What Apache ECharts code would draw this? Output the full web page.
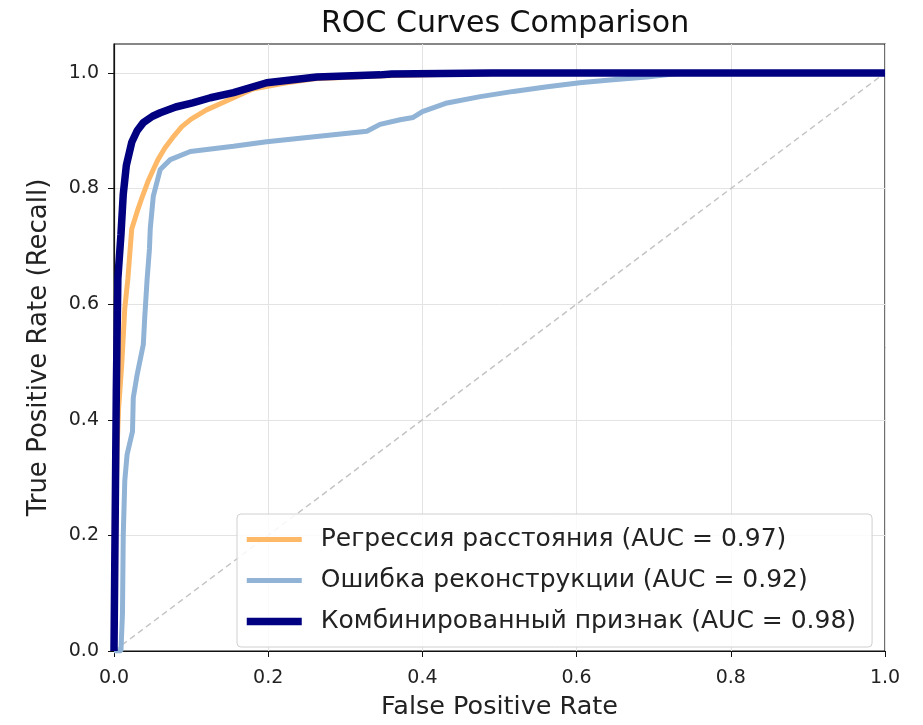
<!DOCTYPE html>
<html style="height: 100%">
<head>
    <meta charset="utf-8">
</head>
<body style="height: 100%; margin: 0; background: #fff">
    <div id="container" style="width: 923px; height: 725px"></div>
    <script src="https://cdn.jsdelivr.net/npm/echarts@6/dist/echarts.min.js"></script>
    <script type="text/javascript">
        // ROC curves, points
        var fprReg = [0, 0.002, 0.004, 0.006, 0.01, 0.014, 0.018, 0.021, 0.023, 0.03, 0.037, 0.044, 0.051, 0.057, 0.066, 0.076, 0.088, 0.1, 0.12, 0.14, 0.16, 0.18, 0.22, 0.26, 0.35, 0.45, 0.55, 1.0];
        var tprReg = [0, 0.2, 0.35, 0.42, 0.495, 0.593, 0.644, 0.696, 0.73, 0.76, 0.787, 0.812, 0.833, 0.85, 0.87, 0.888, 0.907, 0.92, 0.936, 0.948, 0.96, 0.972, 0.982, 0.99, 0.995, 0.998, 1.0, 1.0];

        var fprRec = [0, 0.009, 0.011, 0.012, 0.014, 0.017, 0.024, 0.025, 0.03, 0.038, 0.04, 0.043, 0.046, 0.047, 0.051, 0.06, 0.073, 0.099, 0.155, 0.198, 0.263, 0.328, 0.345, 0.371, 0.388, 0.40, 0.432, 0.475, 0.518, 0.562, 0.604, 0.647, 0.691, 0.725, 0.75, 1.0];
        var tprRec = [0, 0, 0.065, 0.2, 0.295, 0.34, 0.38, 0.438, 0.478, 0.53, 0.58, 0.644, 0.696, 0.73, 0.787, 0.833, 0.85, 0.864, 0.873, 0.881, 0.89, 0.899, 0.911, 0.919, 0.923, 0.933, 0.948, 0.959, 0.968, 0.976, 0.983, 0.988, 0.993, 0.998, 1.0, 1.0];

        var fprComb = [0, 0.001, 0.003, 0.005, 0.009, 0.012, 0.016, 0.023, 0.03, 0.038, 0.05, 0.06, 0.08, 0.102, 0.125, 0.155, 0.198, 0.263, 0.345, 0.36, 0.49, 1.0];
        var tprComb = [0, 0.15, 0.45, 0.644, 0.72, 0.79, 0.84, 0.88, 0.9, 0.914, 0.925, 0.931, 0.941, 0.948, 0.957, 0.966, 0.983, 0.993, 0.9966, 0.998, 1.0, 1.0];

        var chanceX = [0, 1];
        var tickValues = [0, 0.2, 0.4, 0.6, 0.8, 1.0];

        var names = [
            'Регрессия расстояния (AUC = 0.97)',
            'Ошибка реконструкции (AUC = 0.92)',
            'Комбинированный признак (AUC = 0.98)'
        ];
        var colors = ['#fdb968', '#90b3d6', '#000080'];
        var widths = [5, 5, 7.5];

        function pairs(xs, ys) {
            return xs.map(function (x, i) { return [x, ys[i]]; });
        }

        var dom = document.getElementById("container");
        var myChart = echarts.init(dom);
        var font = 'DejaVu Sans';

        var option = {
            animation: false,
            backgroundColor: '#fff',
            textStyle: { fontFamily: font },
            title: {
                text: 'ROC Curves Comparison',
                left: 316,
                top: 4,
                textStyle: { fontFamily: font, fontSize: 30, fontWeight: 'normal', color: '#111' }
            },
            grid: {
                left: 114, right: 38, top: 44, bottom: 70,
                show: true, borderColor: '#111', borderWidth: 1.2
            },
            legend: {
                orient: 'vertical',
                left: 237, top: 514,
                data: names.map(function (n, i) {
                    return { name: n, lineStyle: { width: widths[i], color: colors[i] } };
                }),
                itemWidth: 55, itemHeight: 14, itemGap: 16,
                padding: [13, 16, 13, 6],
                itemStyle: { opacity: 0 },
                backgroundColor: 'rgba(255,255,255,0.85)',
                borderColor: '#d0d0d0', borderWidth: 1, borderRadius: 4,
                textStyle: { fontFamily: font, fontSize: 25, lineHeight: 24, color: '#222', padding: [0, 0, 0, 14] }
            },
            xAxis: {
                type: 'value', min: 0, max: 1, interval: 0.2,
                name: 'False Positive Rate', nameLocation: 'middle', nameGap: 43,
                nameTextStyle: { fontFamily: font, fontSize: 25.5, color: '#222' },
                axisLine: { lineStyle: { color: '#111', width: 1.2 } },
                axisTick: { show: true, length: 6, lineStyle: { color: '#111' } },
                axisLabel: { fontSize: 19, color: '#222', margin: 18, formatter: function (v) { return v.toFixed(1); } },
                splitLine: { show: true, lineStyle: { color: '#e3e3e3', width: 1 } }
            },
            yAxis: {
                type: 'value', min: 0, max: 1.05, interval: 0.2,
                name: 'True Positive Rate (Recall)', nameLocation: 'middle', nameGap: 62,
                nameTextStyle: { fontFamily: font, fontSize: 26, color: '#222' },
                axisLine: { lineStyle: { color: '#111', width: 1.2 } },
                axisTick: { show: true, length: 6, lineStyle: { color: '#111' }, customValues: tickValues },
                axisLabel: { fontSize: 19, color: '#222', margin: 15, customValues: tickValues, formatter: function (v) { return v.toFixed(1); } },
                splitLine: { show: true, lineStyle: { color: '#e3e3e3', width: 1 } }
            },
            series: [{
                name: 'chance',
                type: 'line',
                data: pairs(chanceX, chanceX),
                symbol: 'none', silent: true, z: 1,
                lineStyle: { color: '#c4c4c4', width: 1.5, type: [6, 4] }
            }, {
                name: names[0],
                type: 'line',
                data: pairs(fprReg, tprReg),
                symbol: 'none', z: 2,
                color: colors[0],
                lineStyle: { color: colors[0], width: widths[0] }
            }, {
                name: names[1],
                type: 'line',
                data: pairs(fprRec, tprRec),
                symbol: 'none', z: 3,
                color: colors[1],
                lineStyle: { color: colors[1], width: widths[1] }
            }, {
                name: names[2],
                type: 'line',
                data: pairs(fprComb, tprComb),
                symbol: 'none', z: 4,
                color: colors[2],
                lineStyle: { color: colors[2], width: widths[2] }
            }]
        };

        myChart.setOption(option);
    </script>
</body>
</html>
